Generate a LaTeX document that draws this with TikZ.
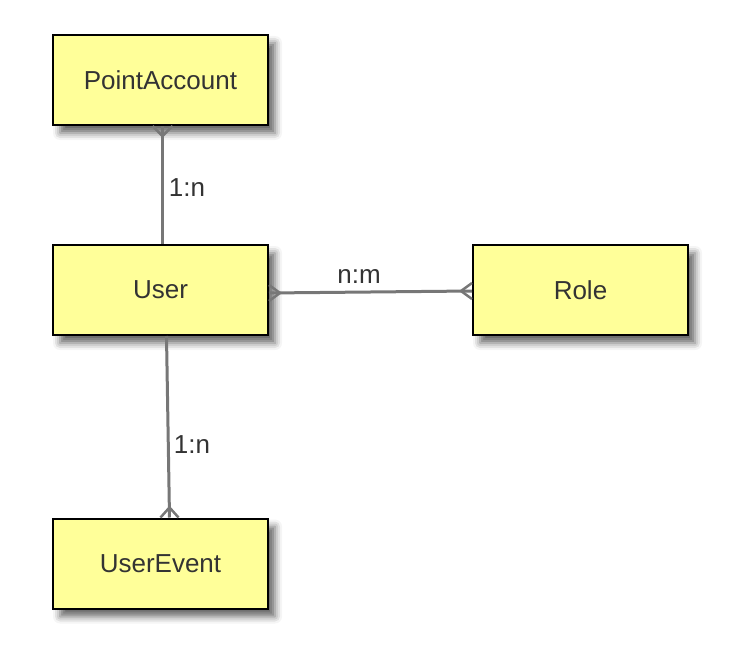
\documentclass[tikz,border=0pt]{standalone}
\usepackage{fontspec}
\setmainfont{Liberation Sans}
\usetikzlibrary{calc,shadows.blur}
\definecolor{boxfill}{HTML}{FFFF99}
\definecolor{txt}{HTML}{333333}
\definecolor{conn}{HTML}{777777}
\tikzset{
  entity/.style={draw=black, line width=2pt, fill=boxfill, minimum width=215pt, minimum height=90pt,
    inner sep=0pt, text=txt, font=\fontsize{26}{30}\selectfont,
    blur shadow={shadow xshift=7pt, shadow yshift=-8pt, shadow blur radius=7pt, shadow opacity=60}},
  rel/.style={draw=conn, line width=3pt},
  foot/.style={draw=conn, line width=2.5pt},
  lbl/.style={text=txt, font=\fontsize{26}{30}\selectfont, inner sep=0pt}
}
\begin{document}
\begin{tikzpicture}[x=1pt,y=-1pt]
\useasboundingbox (0,0) rectangle (750,658);
\node[entity] (pa) at (160.5,80) {PointAccount};
\node[entity] (u) at (160.5,290) {User};
\node[entity] (r) at (580.5,290) {Role};
\node[entity] (ue) at (160.5,563.5) {UserEvent};
% connectors
\coordinate (paS) at ($(pa.south)+(2,0)$);
\coordinate (uN) at ($(u.north)+(2,0)$);
\coordinate (uS) at ($(u.south)+(6,0)$);
\coordinate (ueN) at ($(ue.north)+(9,0)$);
\coordinate (uE) at ($(u.east)+(0,3)$);
\coordinate (rW) at ($(r.west)+(0,1)$);
\draw[rel] (paS) -- (uN);
\draw[rel] (uE) -- (rW);
\draw[rel] (uS) -- (ueN);
% crow's feet
\draw[foot] ($(paS)+(-10,0)$) -- ($(paS)+(0,10)$) -- ($(paS)+(10,0)$);
\draw[foot] ($(ueN)+(-9,0)$) -- ($(ueN)+(0,-10)$) -- ($(ueN)+(9,0)$);
\draw[foot] ($(uE)+(0,-8)$) -- ($(uE)+(11,0)$) -- ($(uE)+(0,8)$);
\draw[foot] ($(rW)+(0,-8)$) -- ($(rW)+(-11,0)$) -- ($(rW)+(0,8)$);
% labels
\node[lbl] (l1) at (187,188) {1:n};
\node[lbl] (l2) at (359,277) {n:m};
\node[lbl] (l3) at (192,445) {1:n};
\end{tikzpicture}
\end{document}
